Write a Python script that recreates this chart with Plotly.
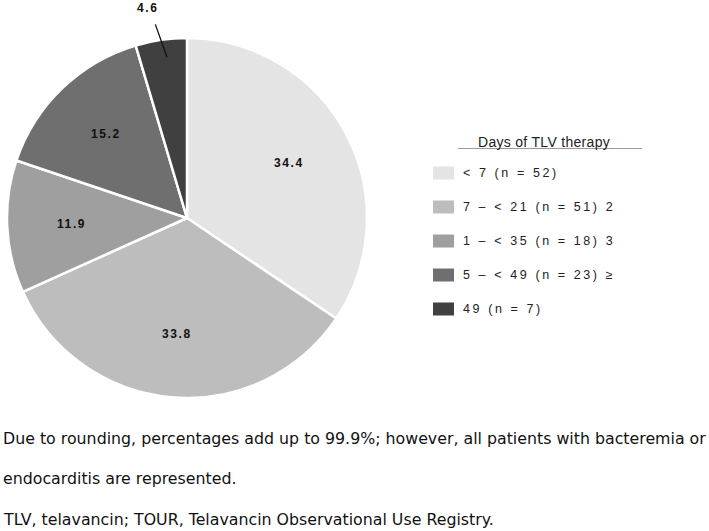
import math
import plotly.graph_objects as go

# ---- data ----
categories = ["< 7 (n = 52)", "7 – < 21 (n = 51) 2", "1 – < 35 (n = 18) 3",
              "5 – < 49 (n = 23) ≥", "49 (n = 7)"]
percentages = [34.4, 33.8, 11.9, 15.2, 4.6]
colors = ["#e4e4e4", "#bdbdbd", "#9f9f9f", "#6f6f6f", "#404040"]
legend_title = "Days of TLV therapy"
footnotes = [
    "Due to rounding, percentages add up to 99.9%; however, all patients with bacteremia or",
    "endocarditis are represented.",
    "TLV, telavancin; TOUR, Telavancin Observational Use Registry.",
]

W, H = 709, 531
# pie geometry in pixels
cx, cy, R = 187, 218, 180
SANS = "Arial, Liberation Sans"


def px(x):
    return x / W


def py(y):
    return 1 - y / H


def ls(s, sp):
    return f'<span style="letter-spacing:{sp}px">{s}</span>'


fig = go.Figure()
fig.add_trace(go.Pie(
    values=percentages,
    labels=categories,
    textinfo="none",
    marker=dict(colors=colors, line=dict(color="white", width=2.5)),
    sort=False,
    direction="clockwise",
    rotation=0,
    domain=dict(x=[px(cx - R), px(cx + R)], y=[py(cy + R), py(cy - R)]),
    showlegend=False,
    hoverinfo="label+value",
))

shapes = []
annotations = []

label_font = dict(family=SANS, size=12, color="#111111", weight="bold")
total = sum(percentages)
cum = 0
for v in percentages:
    mid = (cum + v / 2) / total * 2 * math.pi
    cum += v
    sx, sy = math.sin(mid), -math.cos(mid)
    if v >= 5:
        r = 0.645 * R
        annotations.append(dict(x=px(cx + sx * r), y=py(cy + sy * r), xref="paper", yref="paper",
                                text=ls(f"{v}", 1.6), showarrow=False, font=label_font,
                                xanchor="center", yanchor="middle"))
    else:
        a0, a1 = mid + math.radians(1.2), mid - math.radians(1.0)
        x0, y0 = cx + math.sin(a0) * 0.9 * R, cy - math.cos(a0) * 0.9 * R
        x1, y1 = cx + math.sin(a1) * 1.09 * R, cy - math.cos(a1) * 1.09 * R
        shapes.append(dict(type="line", xref="paper", yref="paper",
                           x0=px(x0), y0=py(y0), x1=px(x1), y1=py(y1),
                           line=dict(color="#111111", width=1.3)))
        xt, yt = cx + sx * 1.19 * R - 9, cy + sy * 1.19 * R + 2
        annotations.append(dict(x=px(xt), y=py(yt), xref="paper", yref="paper",
                                text=ls(f"{v}", 1.6), showarrow=False, font=label_font,
                                xanchor="center", yanchor="middle"))

# legend (manual)
lx0, lx1 = 433, 454
ly0, ldy = 173, 34
annotations.append(dict(x=px(544), y=py(142), xref="paper", yref="paper",
                        text=ls(legend_title, 0.3), showarrow=False,
                        font=dict(family=SANS, size=14, color="#222222"),
                        xanchor="center", yanchor="middle"))
shapes.append(dict(type="line", xref="paper", yref="paper",
                   x0=px(458), x1=px(642), y0=py(148.5), y1=py(148.5),
                   line=dict(color="#9a9a9a", width=1)))
for i, (lab, col) in enumerate(zip(categories, colors)):
    yc = ly0 + i * ldy
    shapes.append(dict(type="rect", xref="paper", yref="paper",
                       x0=px(lx0), x1=px(lx1), y0=py(yc - 6.5), y1=py(yc + 6.5),
                       fillcolor=col, line=dict(width=0)))
    annotations.append(dict(x=px(461), y=py(yc), xref="paper", yref="paper",
                            text=ls(lab, 2.6), showarrow=False,
                            font=dict(family=SANS, size=12.5, color="#222222"),
                            xanchor="left", yanchor="middle"))

# footnotes
for yv, t in zip([438, 478, 519], footnotes):
    annotations.append(dict(x=px(1), y=py(yv), xref="paper", yref="paper",
                            text=t, showarrow=False,
                            font=dict(family="DejaVu Sans, Verdana", size=15.8, color="#111111"),
                            xanchor="left", yanchor="middle"))

fig.update_layout(
    width=W, height=H,
    margin=dict(l=0, r=0, t=0, b=0),
    paper_bgcolor="white", plot_bgcolor="white",
    shapes=shapes, annotations=annotations,
    showlegend=False,
)

fig.write_html("out.html", config={"displayModeBar": False},
               post_script="document.body.style.margin='0px';")
